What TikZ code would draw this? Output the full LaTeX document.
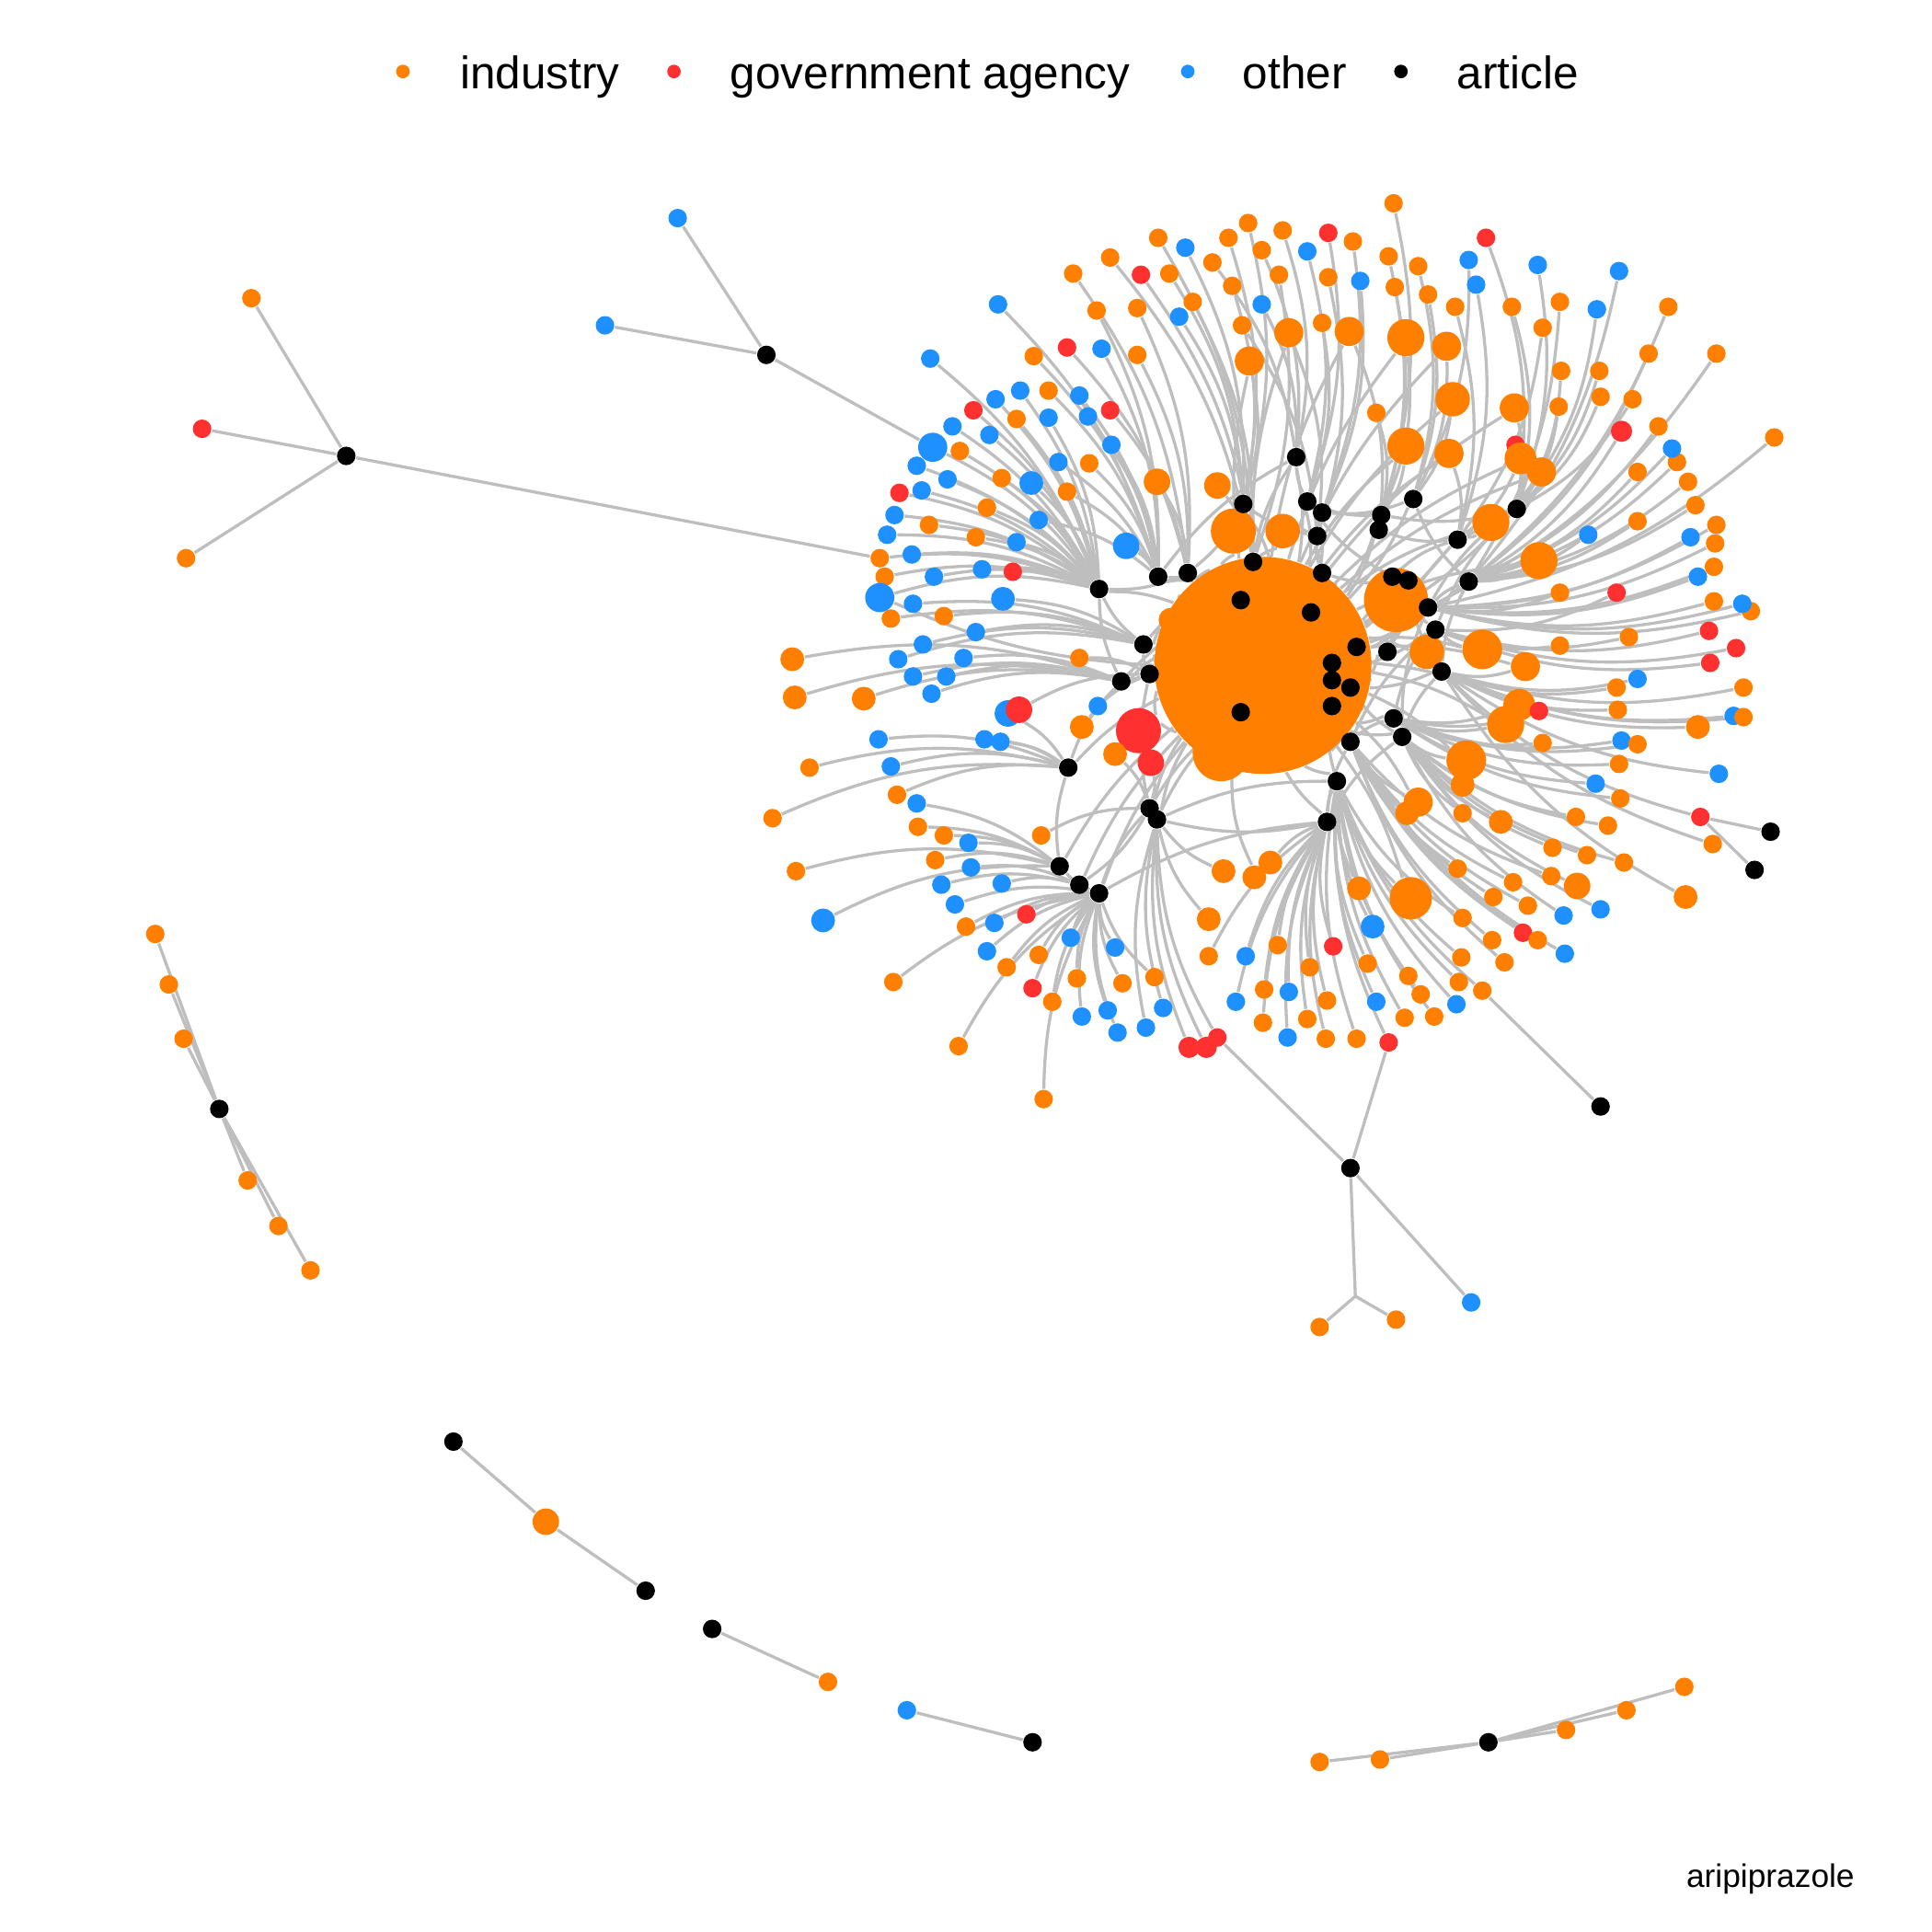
\documentclass[tikz,border=0pt]{standalone}
\usepackage{fontspec}
\setmainfont{Liberation Sans}
\usepackage{tikz}
\usetikzlibrary{backgrounds}
\definecolor{ind}{RGB}{255,127,0}
\definecolor{gov}{RGB}{255,48,48}
\definecolor{oth}{RGB}{30,144,255}
\definecolor{art}{RGB}{0,0,0}
\definecolor{lnkgray}{RGB}{190,190,190}
\tikzset{
  dot/.style={circle,fill=#1,draw=none,inner sep=0pt,minimum size=7*0.215mm},
  lnk/.style={draw=lnkgray,line width=0.7pt},
  lbl/.style={font=\fontsize{10.5}{12}\selectfont,anchor=base west,inner sep=0pt},
}
% article nodes a1..a56
\def\arts{1052/371,1009/409,1061/407,1073/416,1069/435,1121/418,1119/430,1147/405,1231/413,1183/438,
1192/472,1017/456,1073/465,1130/468,1143/471,1159/493,1165/511,1064/497,1007/487,1101/525,
1126/529,1081/538,1081/552,1096/558,1170/545,1081/573,1131/583,1138/598,1096/602,1007/578,
1085/634,1077/667,892/478,940/468,964/465,928/523,910/553,933/547,867/623,933/656,
939/665,860/703,876/718,892/725,281/370,622/288,178/900,368/1170,524/1291,578/1322,
838/1414,1208/1414,1096/948,1299/898,1437/675,1424/706}
% leaves: x/y/type/radius/linked to
\def\leaves{1131/165/ind/7/a6,1078/189/gov/7/a3,1098/196/ind/7/a4,1041/187/ind/7/a1,1013/181/ind/7/a2,
997/193/ind/7/a2,940/193/ind/7/a12,962/201/oth/7/a2,901/209/ind/7/a12,926/223/gov/7/a12,
871/222/ind/7/a35,949/222/ind/7/a2,984/213/ind/7/a1,1024/203/ind/7/a1,1061/204/oth/7/a3,
1127/208/ind/7/a7,1151/216/ind/7/a8,1104/228/oth/7/a4,1078/225/ind/7/a5,1038/223/ind/7/a12,
1000/232/ind/7/a2,1024/247/oth/7/a1,968/245/ind/7/a12,923/250/ind/7/a35,890/252/ind/7/a34,
810/247/oth/7/a34,957/257/oth/7/a2,1159/239/ind/7/a8,1132/233/ind/7/a6,1206/193/gov/7/a9,
1192/211/oth/7/a8,1198/231/oth/7/a10,1181/249/ind/7/a10,1227/249/ind/7/a9,1248/215/oth/7/a9,
1266/245/ind/7/a11,1296/251/oth/7/a9,1314/220/oth/7/a11,1354/249/ind/7/a11,1252/266/ind/7/a10,
1008/264/ind/7/a5,1073/262/ind/7/a3,1046/270/ind/11/a5,1095/269/ind/11/a7,1141/274/ind/14/a6,
1174/281/ind/11/a8,1014/293/ind/11/a2,1338/287/ind/7/a11,1393/287/ind/7/a16,1440/355/ind/7/a16,
866/282/gov/7/a35,894/283/oth/7/a34,923/288/ind/7/a35,839/289/ind/7/a34,755/291/oth/7/a33,
851/317/ind/7/a34,828/317/oth/7/a33,808/324/oth/7/a33,876/321/oth/7/a34,901/333/gov/7/a35,
883/338/oth/7/a34,851/339/oth/7/a33,825/340/ind/7/a33,790/333/gov/7/a33,773/346/oth/7/a33,
803/353/oth/7/a33,779/366/ind/7/a33,744/378/oth/7/a33,769/389/oth/7/a33,902/361/oth/7/a34,
884/376/ind/7/a34,859/375/oth/7/a34,813/388/ind/7/a33,837/392/oth/9/a33,866/399/ind/7/a34,
748/398/oth/7/a33,730/400/gov/7/a33,801/412/ind/7/a33,726/418/oth/7/a33,843/422/oth/7/a34,
754/426/ind/7/a33,792/436/ind/7/a33,720/434/oth/7/a33,825/440/oth/7/a33,914/443/oth/10/a34,
939/391/ind/10/a35,988/394/ind/10/a12,740/450/oth/7/a33,822/464/gov/7/a33,797/462/oth/7/a33,
758/468/oth/7/a33,718/468/ind/7/a33,714/485/oth/11/a33,814/486/oth/9/a36,741/490/oth/7/a36,
723/502/ind/7/a36,766/500/ind/7/a36,792/513/oth/7/a36,749/523/oth/7/a36,782/534/oth/7/a37,
729/535/oth/7/a36,768/549/oth/7/a37,741/549/oth/7/a37,756/563/oth/7/a37,643/535/ind/9/a37,
645/566/ind/9/a37,701/567/ind/9/a37,876/534/ind/7/a38,818/579/oth/10/a39,827/576/gov/10/a38,
891/573/oth/7/a38,878/590/ind/9/a38,924/593/gov/17/hub,934/619/gov/10/a40,905/612/ind/9/a40,
799/600/oth/7/a39,812/602/oth/7/a39,713/600/oth/7/a39,723/622/oth/7/a39,657/623/ind/7/a39,
728/645/ind/7/a39,744/652/oth/7/a42,627/664/ind/7/a39,745/671/ind/7/a42,766/678/ind/7/a42,
786/684/oth/7/a42,646/707/ind/7/a42,759/698/ind/7/a42,788/704/oth/7/a43,668/747/oth/9/a42,
764/718/oth/7/a43,813/717/oth/7/a43,845/678/ind/7/a40,775/734/oth/7/a44,784/752/ind/7/a44,
807/749/oth/7/a44,833/742/gov/7/a44,869/761/oth/7/a44,843/775/ind/7/a44,905/769/oth/7/a44,
801/772/oth/7/a44,817/785/ind/7/a44,725/797/ind/7/a44,838/802/gov/7/a44,874/794/ind/7/a44,
911/798/ind/7/a44,937/793/ind/7/a44,944/818/oth/7/a41,854/813/ind/7/a44,878/825/oth/7/a44,
899/820/oth/7/a44,907/838/oth/7/a44,930/834/oth/7/a41,965/850/gov/8/a41,979/850/gov/8/a41,
778/849/ind/7/a44,847/892/ind/7/a44,993/707/ind/9/a41,1018/712/ind/9/hub,1031/700/ind/9/a32,
981/746/ind/9/a41,981/776/ind/7/a32,1011/776/oth/7/a32,1037/767/ind/7/a32,1082/768/gov/7/a32,
1063/785/ind/7/a32,1003/813/oth/7/a32,1026/803/ind/7/a32,1046/805/oth/7/a32,1025/830/ind/7/a32,
1061/827/ind/7/a32,1077/812/ind/7/a32,1045/842/oth/7/a32,1076/843/ind/7/a32,1101/843/ind/7/a31,
1110/782/ind/7/a31,1114/752/oth/9/a31,1103/721/ind/9/a31,1145/729/ind/16/a31,1143/792/ind/7/a31,
1117/813/oth/7/a31,1153/807/ind/7/a31,1140/826/ind/7/a31,1164/825/ind/7/a31,1186/777/ind/7/a31,
1182/815/oth/7/a31,1187/745/ind/7/a31,1184/797/ind/7/a31,1211/763/ind/7/a29,1221/781/ind/7/a29,
1212/728/ind/7/a29,1228/716/ind/7/a29,1236/757/gov/7/a29,1248/763/ind/7/a29,1270/774/oth/7/a29,
1240/735/ind/7/a29,1259/711/ind/7/a29,1280/719/ind/10/a28,1269/743/oth/7/a28,1299/738/oth/7/a28,
1288/694/ind/7/a28,1260/688/ind/7/a28,1279/663/ind/7/a28,1305/670/ind/7/a28,1318/700/ind/7/a28,
1183/705/ind/7/a29,1218/667/ind/9/a28,1368/728/ind/9/a25,1390/685/ind/7/a25,1295/636/oth/7/a27,
1315/648/ind/7/a27,1314/620/ind/7/a27,1316/601/oth/7/a27,1329/604/ind/7/a27,1313/576/ind/7/a25,
1312/558/ind/7/a25,1329/551/oth/7/a25,1395/628/oth/7/a25,1378/590/ind/9/a25,1407/581/oth/7/a25,
1415/582/ind/7/a25,1415/558/ind/7/a25,1388/538/gov/7/a17,1409/526/gov/7/a17,1387/512/gov/7/a17,
1322/517/ind/7/a17,1312/481/gov/7/a17,1391/488/ind/7/a16,1421/496/ind/7/a16,1414/490/oth/7/a16,
1391/460/ind/7/a16,1392/441/ind/7/a16,1393/426/ind/7/a16,1378/468/oth/7/a16,1372/436/oth/7/a16,
1376/410/ind/7/a11,1370/391/ind/7/a11,1361/375/ind/7/a11,1357/364/oth/7/a11,1329/383/ind/7/a11,
1346/346/ind/7/a11,1316/350/gov/8/a11,1325/324/ind/7/a9,1299/322/ind/7/a9,1298/301/ind/7/a9,
1267/301/ind/7/a9,1265/330/ind/7/a9,1229/331/ind/11/a9,1179/324/ind/13/a8,1117/335/ind/7/a6,
1141/362/ind/14/a6,1176/368/ind/11/a10,1230/361/gov/7/a9,1234/372/ind/12/a10,1251/383/ind/11/a10,
1210/424/ind/14/a10,1329/423/ind/7/a11,1289/434/oth/7/a11,1249/455/ind/14/a11,1266/481/ind/7/a16,
1266/524/ind/7/a17,1203/527/ind/15/a17,1158/529/ind/13/a25,1238/541/ind/11/a25,1233/572/ind/12/a27,
1249/577/gov/7/a27,1222/588/ind/14/a27,1252/603/ind/7/a27,1190/617/ind/15/a28,1187/637/ind/9/a28,
1151/651/ind/11/a29,1142/660/ind/9/a29,1187/660/ind/7/a28,1001/431/ind/17/a2,1041/431/ind/13/a5,
950/503/ind/9/hub}
% leaves of the small components, drawn straight
\def\outer{204/242/ind/7/a45,164/348/gov/7/a45,151/453/ind/7/a45,550/177/oth/7/a46,491/264/oth/7/a46,
126/758/ind/7/a47,137/799/ind/7/a47,149/843/ind/7/a47,201/958/ind/7/a47,226/995/ind/7/a47,
252/1031/ind/7/a47,672/1365/ind/7/a50,736/1388/oth/7/a51,1071/1430/ind/7/a52,1120/1428/ind/7/a52,
1271/1404/ind/7/a52,1320/1388/ind/7/a52,1367/1369/ind/7/a52,1194/1057/oth/7/a53}
% extra links between articles
\def\xlinks{a1/a3,a1/a12,a2/a5,a3/a6,a4/a8,a5/a13,a6/a9,a7/a10,a8/a11,a10/a14,a11/a16,a12/a19,
a13/a15,a14/a17,a15/a25,a16/a21,a17/a27,a18/a20,a20/a24,a22/a29,a24/a28,a26/a31,a27/a29,a28/a32,
a29/a32,a30/a41,a31/a32,a33/a35,a33/a36,a34/a12,a35/a2,a36/a38,a37/a39,a38/a40,a39/a42,a40/a44,
a41/a32,a42/a44,a43/a40,a9/a16,a11/a25,a25/a28,a1/a34,a3/a14,a9/a17,a10/a21,a16/a28,a17/a29,
a31/a41,a32/a44,a12/a36,a19/a37,a30/a40,a33/a37}

\begin{document}
\begin{tikzpicture}[x=0.01cm,y=-0.01cm]
\useasboundingbox (0,0) rectangle (1568,1568);

% legend
\node[dot=ind,minimum size=0.11cm] (lgi) at (327,58) {};
\node[lbl] (lgit) at (373,72) {industry};
\node[dot=gov,minimum size=0.11cm] (lgg) at (547,58) {};
\node[lbl] (lggt) at (592,72) {government agency};
\node[dot=oth,minimum size=0.11cm] (lgo) at (964,58) {};
\node[lbl] (lgot) at (1008,72) {other};
\node[dot=art,minimum size=0.11cm] (lga) at (1137,58) {};
\node[lbl] (lgat) at (1182,72) {article};

% central blob
\node[dot=ind,minimum size=1.76cm] (hub) at (1025,540) {};
\node[dot=ind,minimum size=0.52cm] (hubR) at (1133,487) {};
\node[dot=ind,minimum size=0.46cm] (hubB) at (991,611) {};

% leaves
\foreach \x/\y/\c/\r/\h [count=\i] in \leaves
  \node[dot=\c,minimum size=\r*0.215mm] (l\i) at (\x,\y) {};
\foreach \x/\y/\c/\r/\h [count=\i] in \outer
  \node[dot=\c,minimum size=\r*0.215mm] (m\i) at (\x,\y) {};
\node[dot=oth,minimum size=11*0.215mm] (bb) at (757,363) {};
\node[dot=ind] (ol) at (714,453) {};
\node[dot=gov] (rd) at (988,842) {};
\node[dot=gov] (rb) at (1127,846) {};
\node[dot=ind] (ob) at (1203,804) {};
\node[dot=gov] (rr) at (1380,663) {};
\node[dot=ind,minimum size=10*0.215mm] (mb) at (443,1235) {};
\node[dot=ind] (mc1) at (1071,1077) {};
\node[dot=ind] (mc2) at (1133,1071) {};
\coordinate (br) at (1100,1052);

% articles
\foreach \x/\y [count=\i] in \arts
  \node[dot=art] (a\i) at (\x,\y) {};

% connectors
\begin{scope}[on background layer]
  \foreach \x/\y/\c/\r/\h [count=\i] in \leaves {
    \draw[lnk] (l\i) to[bend left=14] (\h);
    \ifnum\r>10 \draw[lnk] (l\i) to[bend right=10] (hub);\fi
  }
  \foreach \k in {1,...,44}
    \draw[lnk] (a\k) to[bend left=10] (hub);
  \foreach \p/\q in \xlinks
    \draw[lnk] (\p) to[bend right=12] (\q);
  \foreach \x/\y/\c/\r/\h [count=\i] in \outer
    \draw[lnk] (m\i) -- (\h);
  \draw[lnk] (bb) to[bend left=14] (a33);
  \draw[lnk] (ol) to[bend left=14] (a33);
  \draw[lnk] (rd) to[bend left=14] (a41);
  \draw[lnk] (rb) to[bend left=14] (a31);
  \draw[lnk] (ob) to[bend left=14] (a31);
  \draw[lnk] (rr) to[bend left=14] (a25);
  \draw[lnk] (a45) -- (ol);
  \draw[lnk] (a46) -- (bb);
  \draw[lnk] (a48) -- (mb) -- (a49);
  \draw[lnk] (a53) -- (rd) (a53) -- (rb) (a53) -- (br) (br) -- (mc1) (br) -- (mc2);
  \draw[lnk] (a54) -- (ob);
  \draw[lnk] (a55) -- (rr) (a56) -- (rr);
\end{scope}

\node[font=\fontsize{7.5}{9}\selectfont,anchor=base west,inner sep=0pt] (title) at (1368,1532) {aripiprazole};
\end{tikzpicture}
\end{document}
